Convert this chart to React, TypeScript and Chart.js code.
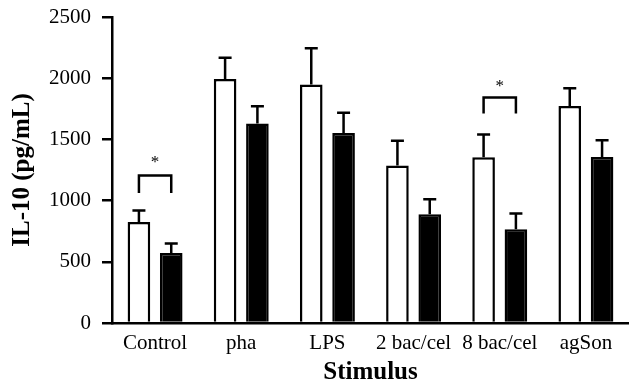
import React, { useEffect, useRef } from "react";
import { Chart, registerables } from "chart.js";

Chart.register(...registerables);

const categories = ["Control", "pha", "LPS", "2 bac/cel", "8 bac/cel", "agSon"];
const whiteValues = [825, 1993, 1949, 1287, 1355, 1772];
const whiteErrTop = [919, 2167, 2244, 1488, 1540, 1917];
const blackValues = [572, 1630, 1553, 889, 766, 1357];
const blackErrTop = [649, 1770, 1717, 1011, 894, 1494];
const yTicks = [0, 500, 1000, 1500, 2000, 2500];

// significance brackets: category index, bracket top value, leg end value, star value
const sigIndex = [0, 4];
const sigTop = [1206, 1843];
const sigLeg = [1063, 1712];
const sigStar = [1316, 1943];

const SERIF = "'Liberation Serif', 'Times New Roman', serif";

const errorBarPlugin = {
  id: "errorBars",
  afterDatasetsDraw(chart: any) {
    const ctx = chart.ctx;
    const y = chart.scales.y;
    const tops = [whiteErrTop, blackErrTop];
    ctx.save();
    ctx.strokeStyle = "#000";
    ctx.lineWidth = 2.5;
    ctx.lineCap = "butt";
    chart.data.datasets.forEach((ds: any, di: number) => {
      const meta = chart.getDatasetMeta(di);
      meta.data.forEach((el: any, i: number) => {
        const yt = el.y;
        const ye = y.getPixelForValue(tops[di][i]);
        ctx.beginPath();
        ctx.moveTo(el.x, yt);
        ctx.lineTo(el.x, ye);
        ctx.moveTo(el.x - 6.5, ye);
        ctx.lineTo(el.x + 6.5, ye);
        ctx.stroke();
      });
    });
    // brackets
    sigIndex.forEach((idx, k) => {
      const a = chart.getDatasetMeta(0).data[idx];
      const b = chart.getDatasetMeta(1).data[idx];
      const yTop = y.getPixelForValue(sigTop[k]);
      const yLeg = y.getPixelForValue(sigLeg[k]);
      ctx.beginPath();
      ctx.moveTo(a.x, yLeg);
      ctx.lineTo(a.x, yTop);
      ctx.lineTo(b.x, yTop);
      ctx.lineTo(b.x, yLeg);
      ctx.stroke();
      ctx.fillStyle = "#000";
      ctx.font = "17px " + SERIF;
      ctx.textAlign = "center";
      ctx.textBaseline = "middle";
      ctx.fillText("*", (a.x + b.x) / 2, y.getPixelForValue(sigStar[k]) + 1);
    });
    ctx.restore();
  },
};

export default function App() {
  const ref = useRef<HTMLCanvasElement>(null);
  useEffect(() => {
    if (!ref.current) return;
    const chart = new Chart(ref.current, {
      type: "bar",
      data: {
        labels: categories,
        datasets: [
          {
            label: "white",
            data: whiteValues,
            backgroundColor: "#ffffff",
            borderColor: "#000000",
            borderWidth: 2.5,
            categoryPercentage: 0.75,
            barPercentage: 0.7,
          },
          {
            label: "black",
            data: blackValues,
            backgroundColor: "#000000",
            borderColor: "#000000",
            borderWidth: 2.5,
            categoryPercentage: 0.75,
            barPercentage: 0.7,
          },
        ],
      },
      options: {
        responsive: false,
        devicePixelRatio: 1,
        animation: false,
        layout: { padding: { left: 0, right: 0, top: 17, bottom: 0 } },
        plugins: {
          legend: { display: false },
          tooltip: { enabled: false },
        },
        scales: {
          x: {
            grid: { display: false, drawTicks: false },
            border: { display: true, color: "#000", width: 2.5 },
            ticks: {
              color: "#000",
              font: { family: SERIF, size: 21 },
              padding: 8,
              maxRotation: 0,
              autoSkip: false,
            },
            title: {
              display: true,
              text: "Stimulus",
              color: "#000",
              font: { family: SERIF, size: 25, weight: "bold" },
              padding: { top: 0, bottom: 3 },
            },
            afterFit: (s: any) => {
              s.height = 68;
              s.paddingLeft = 0;
              s.paddingRight = 0;
            },
          },
          y: {
            min: 0,
            max: 2500,
            afterBuildTicks: (s: any) => {
              s.ticks = yTicks.map((v) => ({ value: v }));
            },
            grid: {
              display: true,
              drawOnChartArea: false,
              drawTicks: true,
              tickLength: 10,
              color: "#000",
              lineWidth: 2.5,
            },
            border: { display: true, color: "#000", width: 2.5 },
            ticks: {
              color: "#000",
              font: { family: SERIF, size: 21 },
              padding: 11,
              callback: (v: any) => String(v),
            },
            title: {
              display: true,
              text: "IL-10 (pg/mL)",
              color: "#000",
              font: { family: SERIF, size: 25, weight: "bold" },
              padding: { top: 8, bottom: 0 },
            },
            afterFit: (s: any) => {
              s.width = 112;
              s.paddingTop = 0;
              s.paddingBottom = 0;
            },
          },
        },
      },
      plugins: [errorBarPlugin],
    });
    return () => chart.destroy();
  }, []);
  return (
    <div style={{ position: "fixed", left: 0, top: 0, width: 629, height: 391, background: "#fff" }}>
      <canvas ref={ref} width={629} height={391} style={{ display: "block" }} />
    </div>
  );
}
